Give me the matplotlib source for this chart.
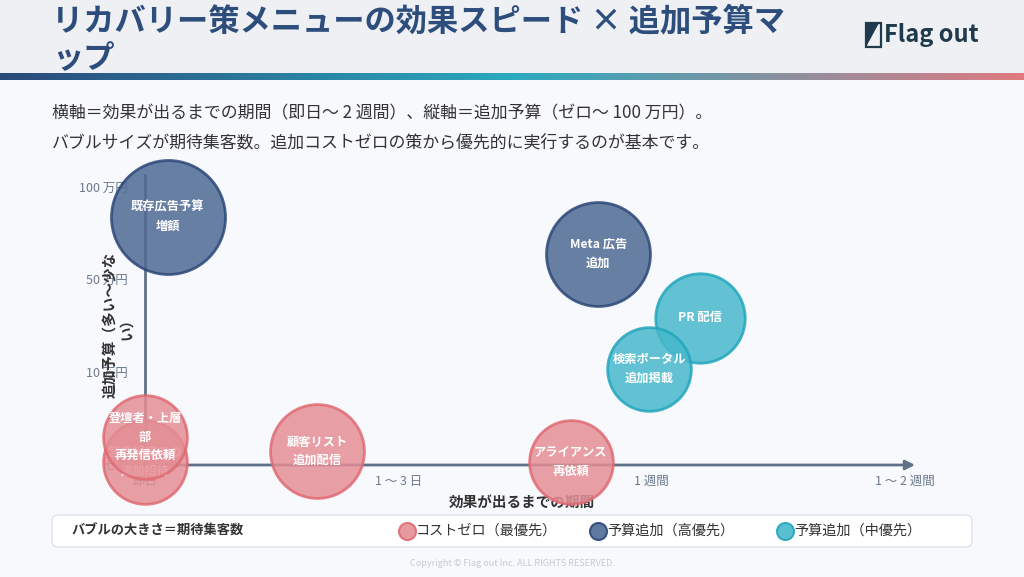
import numpy as np
import matplotlib
matplotlib.use("Agg")
import matplotlib.pyplot as plt
from matplotlib.patches import Rectangle, FancyBboxPatch, Polygon
from matplotlib.colors import LinearSegmentedColormap

plt.rcParams["font.family"] = ["Noto Sans CJK JP", "DejaVu Sans"]

# ---------------------------------------------------------------------------
# Data
# ---------------------------------------------------------------------------
TITLE = "リカバリー策メニューの効果スピード × 追加予算マ\nップ"
SUBTITLE = [
    "横軸＝効果が出るまでの期間（即日〜 2 週間）、縦軸＝追加予算（ゼロ〜 100 万円）。",
    "バブルサイズが期待集客数。追加コストゼロの策から優先的に実行するのが基本です。",
]
X_TICKS = ["即日", "1 ～ 3 日", "1 週間", "1 ～ 2 週間"]
Y_TICKS = ["ゼロ", "10 万円", "50 万円", "100 万円"]

labels = [
    "営業組織での\n追加招待",
    "登壇者・上層\n部\n再発信依頼",
    "顧客リスト\n追加配信",
    "アライアンス\n再依頼",
    "既存広告予算\n増額",
    "Meta 広告\n追加",
    "PR 配信",
    "検索ポータル\n追加掲載",
]
speed = [0.0, 0.0, 0.68, 1.68, 0.09, 1.79, 2.19, 1.99]
budget = [0.03, 0.30, 0.15, 0.03, 2.68, 2.28, 1.59, 1.04]
reach = [175, 175, 220, 175, 325, 270, 200, 175]
group = ["zero", "zero", "zero", "zero", "high", "high", "mid", "mid"]

GROUP_NAMES = {"zero": "コストゼロ（最優先）", "high": "予算追加（高優先）", "mid": "予算追加（中優先）"}
FILL = {"zero": "#e48e95", "high": "#4f6a95", "mid": "#48b8cb"}
EDGE = {"zero": "#e06a73", "high": "#2b4878", "mid": "#22a7bd"}

W, H, DPI = 1024, 577, 100
X0, XU = 145, 253.3   # pixel of x=0, pixels per x unit
Y0, YU = 465, 92.7    # pixel of y=0, pixels per y unit


def main():
    fig = plt.figure(figsize=(W / DPI, H / DPI), dpi=DPI)
    fig.patch.set_facecolor("#f8f9fc")

    # background / decoration axes in pixel coords
    bg = fig.add_axes([0, 0, 1, 1], zorder=0)
    bg.set_xlim(0, W)
    bg.set_ylim(H, 0)
    bg.axis("off")

    bg.add_patch(Rectangle((0, 0), W, 73, facecolor="#eef0f4", edgecolor="none"))
    cmap = LinearSegmentedColormap.from_list("bar", ["#2b4a7a", "#2aa9c0", "#e07a80"])
    bg.imshow(np.linspace(0, 1, 256)[None, :], cmap=cmap, aspect="auto",
              extent=(0, W, 80, 73), zorder=1)

    bg.text(52, 40, TITLE, fontsize=22.5, fontweight="bold", color="#2d4d7c",
            va="center", ha="left", linespacing=1.22)

    # logo
    bg.add_patch(Polygon([[866, 23], [881, 23], [881, 47], [866, 47]], closed=True,
                         facecolor="none", edgecolor="#1e3a4c", lw=1.6))
    bg.add_patch(Polygon([[866, 23], [879, 23], [866, 47]], closed=True,
                         facecolor="#1e3a4c", edgecolor="none"))
    bg.text(884, 35, "Flag out", fontsize=17, fontweight="bold", color="#1e3a4c",
            va="center", ha="left")

    for i, line in enumerate(SUBTITLE):
        bg.text(52, 113 + 29 * i, line, fontsize=12.2, color="#333333", va="center", ha="left")

    # tick labels
    for i, t in enumerate(Y_TICKS):
        bg.text(128, Y0 - YU * i + 2, t, fontsize=9, color="#6b7a8f", ha="right", va="center")
    for i, t in enumerate(X_TICKS):
        bg.text(X0 + XU * i, 481, t, fontsize=9, color="#6b7a8f", ha="center", va="center")

    bg.text(522, 502, "効果が出るまでの期間", fontsize=10.5, fontweight="bold",
            color="#333333", ha="center", va="center")
    bg.text(118, 325, "追加予算（多い〜少な\nい）", fontsize=10.5, fontweight="bold",
            color="#333333", ha="center", va="center", rotation=90,
            multialignment="center", linespacing=1.0)

    # legend box
    bg.add_patch(FancyBboxPatch((52, 515), 920, 32, boxstyle="round,pad=0,rounding_size=6",
                                facecolor="white", edgecolor="#dde1e8", lw=1))
    bg.text(72, 531, "バブルの大きさ＝期待集客数", fontsize=9.5, fontweight="bold",
            color="#333333", ha="left", va="center")
    for gx, g in zip([407, 598, 785], ["zero", "high", "mid"]):
        bg.scatter([gx], [531], s=150, facecolor=FILL[g], edgecolor=EDGE[g], lw=1.5, alpha=0.9)
        bg.text(gx + 9, 531, GROUP_NAMES[g], fontsize=10.2, color="#333333",
                ha="left", va="center")

    bg.text(512, 563, "Copyright © Flag out Inc. ALL RIGHTS RESERVED.", fontsize=6.5,
            color="#c5c9d1", ha="center", va="center")

    # data axes, mapped so that data units land on the pixel grid above
    ax = fig.add_axes([0, 0, 1, 1], zorder=1)
    ax.set_xlim(-X0 / XU, (W - X0) / XU)
    ax.set_ylim(-(H - Y0) / YU, Y0 / YU)
    ax.axis("off")
    ax.patch.set_visible(False)

    ax.plot([0, 0], [0, 3.13], color="#5f7189", lw=2, zorder=1)
    ax.annotate("", xy=(3.04, 0), xytext=(0, 0),
                arrowprops=dict(arrowstyle="-|>", color="#5f7189", lw=2,
                                mutation_scale=14, shrinkA=0, shrinkB=0), zorder=1)

    scale = 2.0736 * 10.0  # marker area per reach unit
    for k, (lab, x, y, r, g) in enumerate(zip(labels, speed, budget, reach, group)):
        z = 2 + k
        ax.scatter([x], [y], s=r * scale, facecolor=FILL[g], edgecolor=EDGE[g],
                   lw=2, alpha=0.85, zorder=z, clip_on=False)
        ax.text(x, y, lab, fontsize=8.8, fontweight="bold", color="white",
                ha="center", va="center", linespacing=1.55, zorder=z + 0.5)

    fig.savefig("out.png", dpi=DPI, facecolor=fig.get_facecolor())
    plt.close(fig)


if __name__ == "__main__":
    main()
